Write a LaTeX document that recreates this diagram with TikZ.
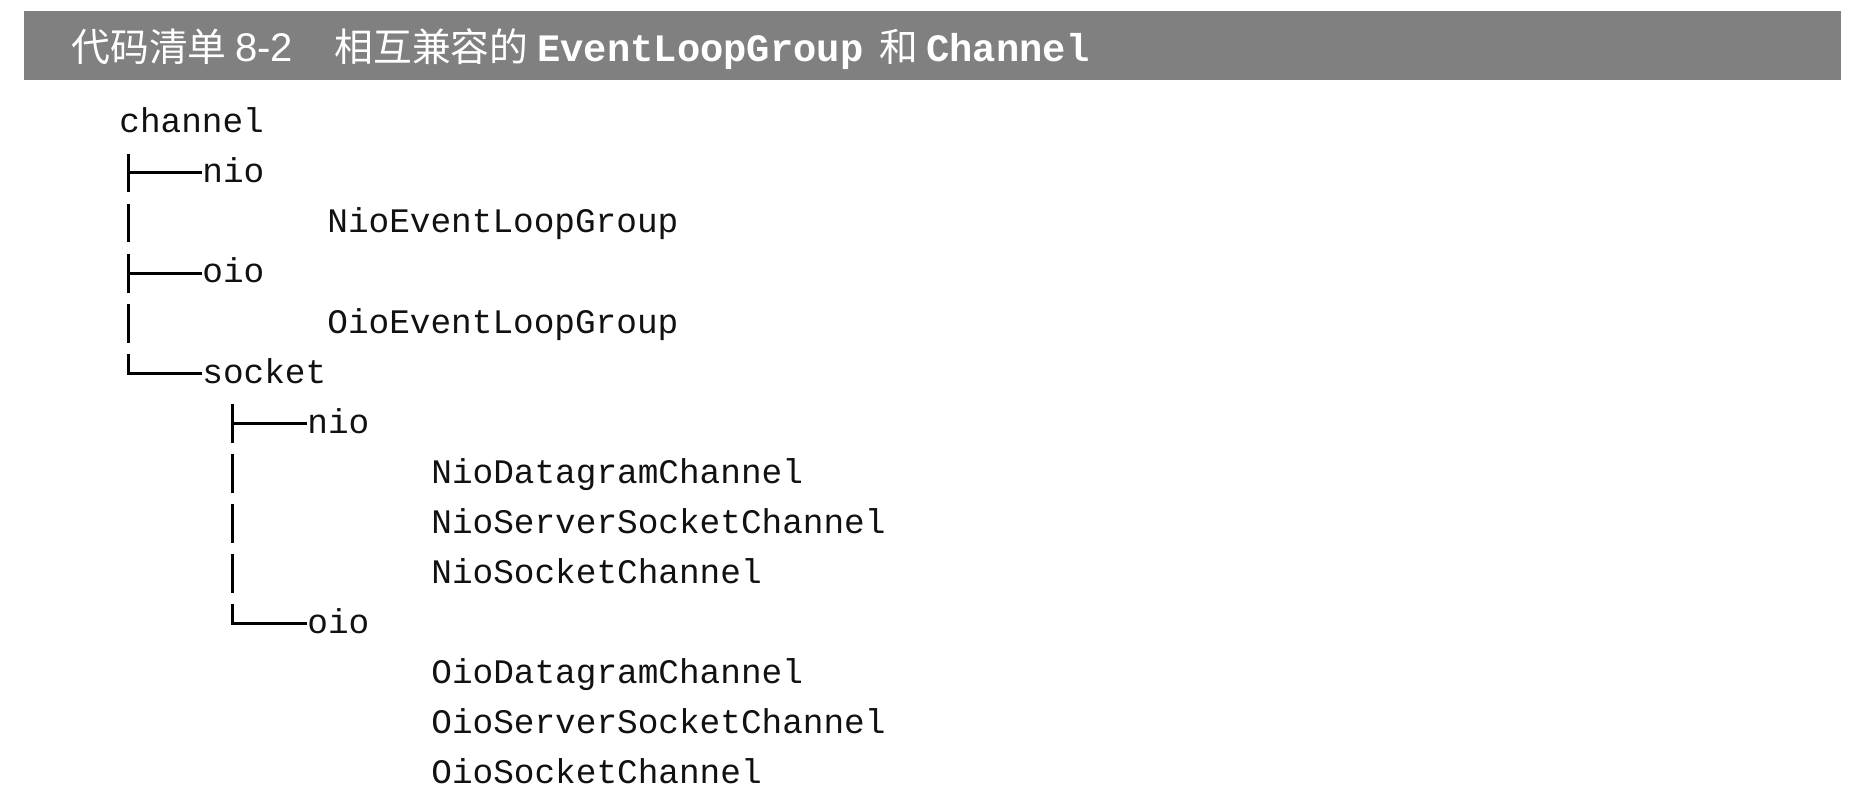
\documentclass[tikz,border=0pt]{standalone}
\usepackage{fontspec}
\usepackage{xcolor}
\usepackage{tikz}
\usetikzlibrary{positioning}
\newfontfamily\cjkfont{Noto Sans CJK SC}
\newfontfamily\ttlsans{Liberation Sans}
\newfontfamily\codefont{Liberation Mono}
\definecolor{bargray}{HTML}{808080}
\definecolor{codeink}{HTML}{111111}
\tikzset{
  ttl/.style={
    font=\cjkfont\fontsize{19.4pt}{19.4pt}\selectfont, text=white,
    anchor=base west, inner sep=0pt,
  },
  ttlnum/.style={ttl, font=\ttlsans\fontsize{20pt}{20pt}\selectfont},
  ttlcode/.style={ttl, font=\codefont\bfseries\fontsize{19.4pt}{19.4pt}\selectfont},
  entry/.style={
    font=\codefont\fontsize{17.2pt}{17.2pt}\selectfont, text=codeink,
    anchor=base west, inner sep=0pt,
  },
  branch/.style={line width=1.5pt, color=black},
}

\begin{document}
\begin{tikzpicture}[x=0.5pt, y=-0.5pt]

  \useasboundingbox (0,0) rectangle (1862,802);

  \fill[bargray] (24,11) rectangle (1841,80);
  \node[ttl] (ttllist) at (71,62) {代码清单};
  \node[ttlnum] (ttlnum) at (235,62) {8-2};
  \node[ttl] (ttlcjk) at (334,62) {相互兼容的};
  \node[ttlcode] (ttlgroup) at (537,62) {EventLoopGroup};
  \node[ttl] (ttland) at (879,62) {和};
  \node[ttlcode] (ttlchannel) at (926,62) {Channel};

  \node[entry] (channel) at (119,133) {channel};
  \node[entry] (nio) at (202,183) {nio};
  \node[entry] (nioloop) at (327,233) {NioEventLoopGroup};
  \node[entry] (oio) at (202,283) {oio};
  \node[entry] (oioloop) at (327,333) {OioEventLoopGroup};
  \node[entry] (socket) at (202,383) {socket};
  \node[entry] (socknio) at (307,433) {nio};
  \node[entry] (niodgram) at (431,483) {NioDatagramChannel};
  \node[entry] (nioserver) at (431,533) {NioServerSocketChannel};
  \node[entry] (niosocket) at (431,583) {NioSocketChannel};
  \node[entry] (sockoio) at (307,633) {oio};
  \node[entry] (oiodgram) at (431,683) {OioDatagramChannel};
  \node[entry] (oioserver) at (431,733) {OioServerSocketChannel};
  \node[entry] (oiosocket) at (431,783) {OioSocketChannel};

  \coordinate (jnio) at (128,173);
  \coordinate (joio) at (128,273);
  \coordinate (jsocket) at (128,373);
  \coordinate (jsocknio) at (232,423);
  \coordinate (jsockoio) at (232,623);

  % channel branches
  \draw[branch] (128,154) -- (128,192.5);
  \draw[branch] (jnio) -- (jnio -| nio.west);
  \draw[branch] (128,204) -- (128,242.5);
  \draw[branch] (128,254) -- (128,292.5);
  \draw[branch] (joio) -- (joio -| oio.west);
  \draw[branch] (128,304) -- (128,342.5);
  \draw[branch] (128,354) -- (jsocket) -- (jsocket -| socket.west);

  % socket branches
  \draw[branch] (232,404) -- (232,442.5);
  \draw[branch] (jsocknio) -- (jsocknio -| socknio.west);
  \draw[branch] (232,454) -- (232,492.5);
  \draw[branch] (232,504) -- (232,542.5);
  \draw[branch] (232,554) -- (232,592.5);
  \draw[branch] (232,604) -- (jsockoio) -- (jsockoio -| sockoio.west);

\end{tikzpicture}
\end{document}
